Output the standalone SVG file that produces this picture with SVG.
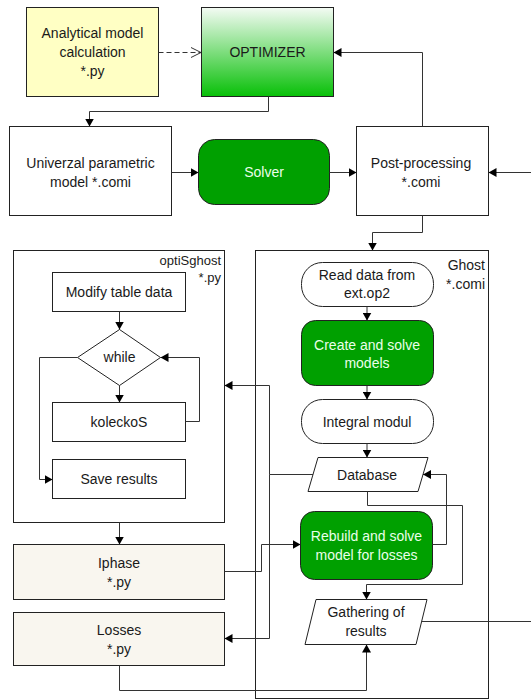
<svg xmlns="http://www.w3.org/2000/svg" width="531" height="700" viewBox="0 0 531 700">
<defs>
<linearGradient id="optg" x1="0" y1="0" x2="0" y2="1">
<stop offset="0" stop-color="#f4fbf4"/>
<stop offset="1" stop-color="#08c008"/>
</linearGradient>
<marker id="ah" markerUnits="userSpaceOnUse" markerWidth="9" markerHeight="9" refX="8" refY="4.5" orient="auto">
<path d="M0,0 L8,4.5 L0,9 z" fill="#000"/>
</marker>
<marker id="oh" markerUnits="userSpaceOnUse" markerWidth="12" markerHeight="12" refX="10" refY="6" orient="auto">
<path d="M0,1 L10,6 L0,11" fill="none" stroke="#333" stroke-width="1"/>
</marker>
<style>
text{font-family:"Liberation Sans",Arial,sans-serif;font-size:14px;fill:#1a1a1a;text-anchor:middle;dominant-baseline:central}
text.w{fill:#eaffea}
text.r{text-anchor:end;dominant-baseline:auto}
text.s{font-size:13px}
.b{fill:#fff;stroke:#222;stroke-width:1}
.g{fill:#00a000;stroke:#222;stroke-width:1}
.p{fill:#f9f6ef;stroke:#222;stroke-width:1}
.c{fill:none;stroke:#333;stroke-width:1}
</style>
</defs>

<g id="analytical">
<rect x="26.5" y="7.5" width="132" height="89" fill="#ffffc4" stroke="#222"/>
<text x="92.5" y="33">Analytical model</text>
<text x="92.5" y="52">calculation</text>
<text x="92.5" y="71">*.py</text>
</g>
<g id="optimizer">
<rect x="201.5" y="7.5" width="132" height="89" fill="url(#optg)" stroke="#222"/>
<text x="267.5" y="52">OPTIMIZER</text>
</g>
<g id="univerzal">
<rect class="b" x="9.5" y="126.5" width="162" height="89"/>
<text x="90.5" y="163">Univerzal parametric</text>
<text x="90.5" y="182">model *.comi</text>
</g>
<g id="solver">
<rect class="g" x="198.5" y="139.5" width="131" height="65" rx="16"/>
<text class="w" x="264" y="172">Solver</text>
</g>
<g id="postprocessing">
<rect class="b" x="356.5" y="126.5" width="132" height="89"/>
<text x="421" y="163">Post-processing</text>
<text x="421" y="182">*.comi</text>
</g>

<g id="optisghost">
<rect class="b" x="13.5" y="250.5" width="211" height="272"/>
<text class="r s" x="221" y="265">optiSghost</text>
<text class="r s" x="221" y="282">*.py</text>
</g>
<g id="modify">
<rect class="b" x="52.5" y="272.5" width="133" height="39"/>
<text x="119" y="292">Modify table data</text>
</g>
<g id="while">
<polygon class="b" points="119.5,329.5 160.5,357.5 119.5,385.5 77.5,357.5"/>
<text x="119.5" y="357">while</text>
</g>
<g id="koleckos">
<rect class="b" x="52.5" y="402.5" width="133" height="39"/>
<text x="119" y="422">koleckoS</text>
</g>
<g id="saveresults">
<rect class="b" x="52.5" y="459.5" width="133" height="39"/>
<text x="119" y="479">Save results</text>
</g>
<g id="iphase">
<rect class="p" x="13.5" y="544.5" width="211" height="55"/>
<text x="119" y="563">Iphase</text>
<text x="119" y="582">*.py</text>
</g>
<g id="losses">
<rect class="p" x="13.5" y="612.5" width="211" height="53"/>
<text x="119" y="630">Losses</text>
<text x="119" y="649">*.py</text>
</g>

<g id="ghost">
<rect class="b" x="255.5" y="250.5" width="233" height="448"/>
<text class="r" x="485" y="270">Ghost</text>
<text class="r" x="485" y="289">*.comi</text>
</g>
<g id="readdata">
<rect class="b" x="301.5" y="262.5" width="132" height="44" rx="21" ry="21"/>
<text x="367" y="275">Read data from</text>
<text x="367" y="293">ext.op2</text>
</g>
<g id="createsolve">
<rect class="g" x="301.5" y="320.5" width="132" height="65" rx="14"/>
<text class="w" x="367" y="345">Create and solve</text>
<text class="w" x="367" y="363">models</text>
</g>
<g id="integral">
<rect class="b" x="301.5" y="399.5" width="132" height="44" rx="21" ry="21"/>
<text x="367" y="422">Integral modul</text>
</g>
<g id="database">
<polygon class="b" points="318,457.5 428,457.5 418,491.5 308,491.5"/>
<text x="367" y="475">Database</text>
</g>
<g id="rebuild">
<rect class="g" x="300.5" y="511.5" width="132" height="68" rx="14"/>
<text class="w" x="366.5" y="536">Rebuild and solve</text>
<text class="w" x="366.5" y="555">model for losses</text>
</g>
<g id="gathering">
<polygon class="b" points="316,599.5 427,599.5 416,644.5 305,644.5"/>
<text x="366" y="612">Gathering of</text>
<text x="366" y="631">results</text>
</g>

<g id="connectors">
<path class="c" d="M158.5,52.5 H201" stroke-dasharray="5,3" marker-end="url(#oh)"/>
<path class="c" d="M268.5,96.5 V111.5 H89.5 V126.5" marker-end="url(#ah)"/>
<path class="c" d="M171.5,172.5 H198.5" marker-end="url(#ah)"/>
<path class="c" d="M329.5,172.5 H356.5" marker-end="url(#ah)"/>
<path class="c" d="M531,172.5 H488.5" marker-end="url(#ah)"/>
<path class="c" d="M422.5,126.5 V52.5 H333.5" marker-end="url(#ah)"/>
<path class="c" d="M422.5,215.5 V232.5 H372.5 V250.5" marker-end="url(#ah)"/>
<path class="c" d="M119.5,311.5 V329.5" marker-end="url(#ah)"/>
<path class="c" d="M119.5,385.5 V402.5" marker-end="url(#ah)"/>
<path class="c" d="M185.5,421.5 H199.5 V357.5 H160.5" marker-end="url(#ah)"/>
<path class="c" d="M77.5,357.5 H39.5 V479.5 H52.5" marker-end="url(#ah)"/>
<path class="c" d="M119.5,522.5 V544.5" marker-end="url(#ah)"/>
<path class="c" d="M224.5,571.5 H261.5 V544.5 H300.5" marker-end="url(#ah)"/>
<path class="c" d="M119.5,665.5 V690.5 H366.5 V644.5" marker-end="url(#ah)"/>
<path class="c" d="M367,306.5 V320.5" marker-end="url(#ah)"/>
<path class="c" d="M367,385.5 V399.5" marker-end="url(#ah)"/>
<path class="c" d="M367,443.5 V457.5" marker-end="url(#ah)"/>
<path class="c" d="M313,474.5 H269.5 V385.5 H224.5" marker-end="url(#ah)"/>
<path class="c" d="M269.5,474.5 V638.5 H224.5" marker-end="url(#ah)"/>
<path class="c" d="M367.5,491.5 V505.5 H462.5 V584.5 H366.5 V599.5" marker-end="url(#ah)"/>
<path class="c" d="M432.5,544.5 H446.5 V474.5 H423" marker-end="url(#ah)"/>
<path class="c" d="M421.5,621.5 H531"/>
</g>
</svg>
